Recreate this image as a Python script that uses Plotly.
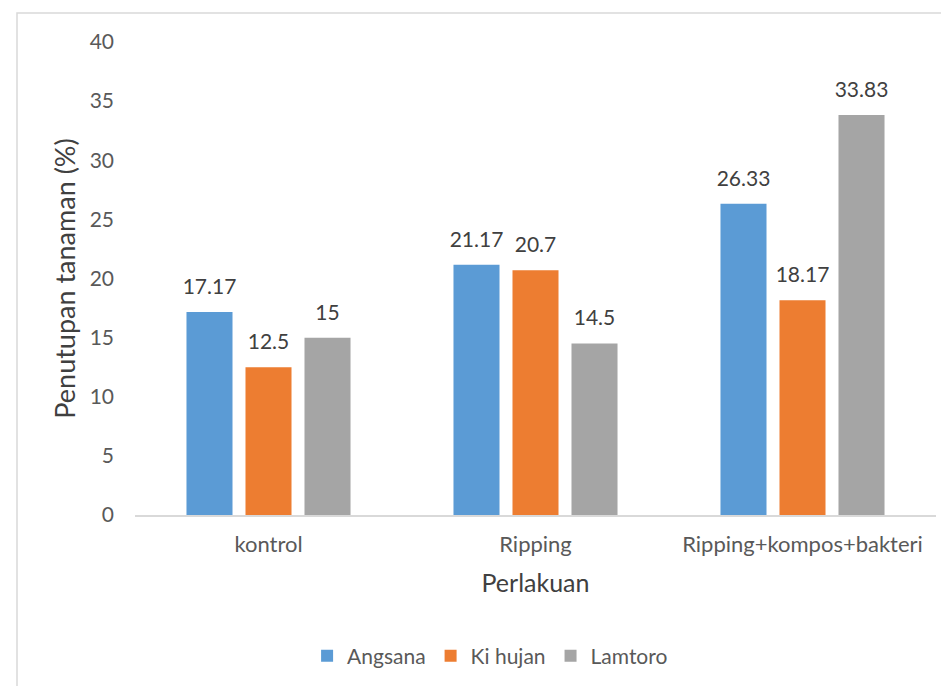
import plotly.graph_objects as go

categories = ["kontrol", "Ripping", "Ripping+kompos+bakteri"]
angsana = [17.17, 21.17, 26.33]
ki_hujan = [12.5, 20.7, 18.17]
lamtoro = [15, 14.5, 33.83]
series_names = ["Angsana", "Ki hujan", "Lamtoro"]
colors = ["#5B9BD5", "#ED7D31", "#A5A5A5"]
y_ticks = [0, 5, 10, 15, 20, 25, 30, 35, 40]

FONT = "Lato"
W, H = 949, 686
DX, DY = -5, -7  # page rendering offset compensation
ml, mr, mt, mb = 132 + DX, 16 - DX, 41 + DY, 172 - DY
BARGAP = 0.337

fig = go.Figure()
for i, (name, vals, col) in enumerate(zip(series_names, [angsana, ki_hujan, lamtoro], colors)):
    fig.add_trace(go.Bar(
        x=categories, y=vals, name=name, marker_color=col,
        marker_line_width=0, offsetgroup=str(i),
    ))
for i, (name, vals) in enumerate(zip(series_names, [angsana, ki_hujan, lamtoro])):
    fig.add_trace(go.Scatter(
        x=categories, y=vals, mode="markers+text", offsetgroup=str(i),
        text=[f"{v:g}" for v in vals], textposition="top center",
        marker=dict(size=19, opacity=0, color="white"),
        textfont=dict(family=FONT, size=21, color="#404040"),
        showlegend=False, hoverinfo="skip", cliponaxis=False,
    ))

pw = W - ml - mr
ph = H - mt - mb
def px_x(p):
    return (p + DX - ml) / pw
def px_y(p):
    return (H - mb - (p + DY)) / ph

fig.update_layout(
    width=W, height=H,
    margin=dict(l=ml, r=mr, t=mt, b=mb, autoexpand=False),
    paper_bgcolor="white", plot_bgcolor="white",
    barmode="group", bargap=BARGAP, bargroupgap=0.22,
    scattermode="group", scattergap=BARGAP,
    font=dict(family=FONT, color="#595959", size=20),
    showlegend=True,
    legend=dict(orientation="h", x=0.508, xanchor="center", xref="container",
                y=1 - 648 / H, yanchor="middle", yref="container",
                font=dict(family=FONT, size=21, color="#595959"),
                itemwidth=30, traceorder="normal"),
    xaxis=dict(showline=True, linecolor="#D9D9D9", linewidth=1.5, ticks="",
               automargin=False, ticklabelstandoff=9,
               tickfont=dict(family=FONT, size=22, color="#595959"),
               title=dict(text="Perlakuan", font=dict(family=FONT, size=25, color="#404040"), standoff=18)),
    yaxis=dict(range=[0, 40], tickvals=y_ticks, showgrid=False, zeroline=False, showline=False,
               ticks="", ticklabelstandoff=20, automargin=False,
               tickfont=dict(family=FONT, size=21, color="#595959"),
               title=dict(text="Penutupan tanaman (%)", font=dict(family=FONT, size=27, color="#404040"), standoff=6)),
    shapes=[dict(type="rect", xref="paper", yref="paper",
                 x0=px_x(14), x1=px_x(960), y0=px_y(700), y1=px_y(12),
                 line=dict(color="#D9D9D9", width=1.5), fillcolor="rgba(0,0,0,0)", layer="below")],
)
fig.write_html("out.html")
